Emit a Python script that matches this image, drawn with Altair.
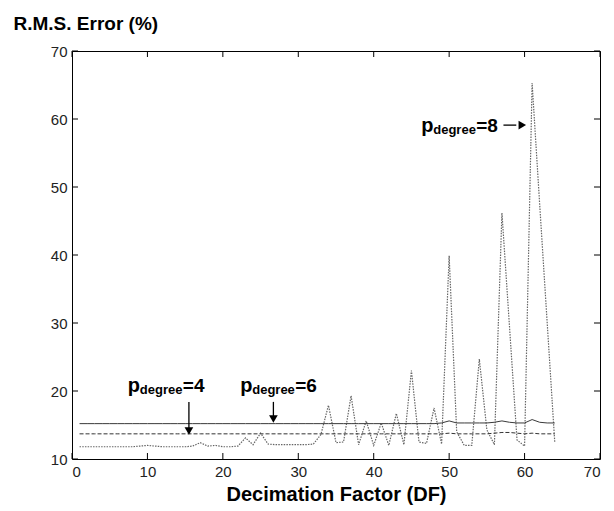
import altair as alt
import pandas as pd

# ---- data ----
df_vals = list(range(1, 65))

p4 = [15.2] * 48 + [15.3, 15.6, 15.3, 15.3, 15.3, 15.3, 15.3, 15.4,
                    15.6, 15.4, 15.3, 15.3, 15.8, 15.4, 15.3, 15.3]

p6 = [13.7] * 48 + [13.7, 13.8, 13.7, 13.7, 13.7, 13.7, 13.7, 13.8,
                    13.9, 13.9, 13.8, 13.7, 13.8, 13.7, 13.7, 13.7]

p8 = [11.8, 11.8, 11.8, 11.8, 11.8, 11.8, 11.8, 11.8, 11.9, 12.0,
      11.9, 11.8, 11.8, 11.8, 11.8, 11.9, 12.4, 11.9, 12.0, 11.8,
      11.8, 11.9, 13.1, 12.1, 13.8, 12.2, 12.1, 12.1, 12.1, 12.1,
      12.1, 12.2, 13.6, 17.9, 12.4, 12.5, 19.3, 12.1, 15.6, 12.0,
      15.3, 12.0, 16.7, 12.1, 23.0, 12.5, 12.3, 17.5, 12.2, 39.9,
      14.0, 12.0, 12.0, 24.7, 14.3, 12.1, 46.2, 29.5, 12.8, 11.9,
      65.3, 47.5, 30.0, 12.5]

x_ticks = [0, 10, 20, 30, 40, 50, 60, 70]
y_ticks = [10, 20, 30, 40, 50, 60, 70]

# annotations: label anchor (DF, value) and suffix
ann_x = [7.4, 22.3, 46.3]
ann_y = [19.8, 19.8, 58.1]
ann_suffix = ["=4", "=6", "=8"]

# arrows (shaft start / end) and heads
arr_x1 = [15.5, 26.7, 57.2]
arr_x2 = [15.5, 26.7, 58.9]
arr_y1 = [18.4, 18.4, 59.1]
arr_y2 = [14.3, 15.9, 59.1]
head_x = [15.5, 26.7, 59.7]
head_y = [14.1, 15.9, 59.1]
head_shape = ["triangle-down", "triangle-down", "triangle-right"]

W, H = 528, 408
FONT = "Liberation Sans"

df = pd.DataFrame({
    "DF": df_vals * 3,
    "rms": p4 + p6 + p8,
    "series": ["p4"] * 64 + ["p6"] * 64 + ["p8"] * 64,
})

xscale = alt.Scale(domain=[0, 70], nice=False, zero=False)
yscale = alt.Scale(domain=[10, 70], nice=False, zero=False)

x_axis = alt.Axis(
    values=x_ticks, title="Decimation Factor (DF)", ticks=False, grid=False,
    domain=False, labelFont=FONT, labelFontSize=15, labelColor="#222",
    labelPadding=5, titleFont=FONT, titleFontSize=20, titleFontWeight="bold",
    titleColor="black", titleY=41, titleBaseline="alphabetic")
y_axis = alt.Axis(
    values=y_ticks, title="R.M.S. Error (%)", ticks=False, grid=False,
    domain=False, labelFont=FONT, labelFontSize=15, labelColor="#222",
    labelPadding=5, titleFont=FONT, titleFontSize=19, titleFontWeight="bold",
    titleColor="black", titleAngle=0, titleAlign="left", titleX=-59,
    titleY=-22, titleBaseline="alphabetic")


def X(field):
    return alt.X(field, type="quantitative", scale=xscale, axis=x_axis)


def Y(field):
    return alt.Y(field, type="quantitative", scale=yscale, axis=y_axis)


base = alt.Chart(df).encode(x=X("DF"), y=Y("rms"))
line4 = base.transform_filter(alt.datum.series == "p4").mark_line(
    color="#3a3a3a", strokeWidth=1)
line6 = base.transform_filter(alt.datum.series == "p6").mark_line(
    color="#333333", strokeWidth=1, strokeDash=[4, 2])
line8 = base.transform_filter(alt.datum.series == "p8").mark_line(
    color="#666666", strokeWidth=1.2, strokeDash=[1.5, 1.2])

# inward ticks on all four sides
xt = pd.DataFrame({"t": x_ticks})
yt = pd.DataFrame({"t": y_ticks})
tick_b = alt.Chart(xt).mark_rule(color="black").encode(
    x=X("t"), y=alt.value(H), y2=alt.value(H - 6))
tick_t = alt.Chart(xt).mark_rule(color="black").encode(
    x=X("t"), y=alt.value(0), y2=alt.value(6))
tick_l = alt.Chart(yt).mark_rule(color="black").encode(
    y=Y("t"), x=alt.value(0), x2=alt.value(6))
tick_r = alt.Chart(yt).mark_rule(color="black").encode(
    y=Y("t"), x=alt.value(W), x2=alt.value(W - 6))

ann = pd.DataFrame({"ax": ann_x, "ay": ann_y, "suf": ann_suffix})
txt_p = alt.Chart(ann).mark_text(
    text="p", align="left", baseline="alphabetic", font=FONT, fontSize=20,
    fontWeight="bold", color="black").encode(x=X("ax"), y=Y("ay"))
txt_deg = alt.Chart(ann).mark_text(
    text="degree", align="left", baseline="alphabetic", font=FONT, fontSize=13,
    fontWeight="bold", color="black", dx=12, dy=2).encode(x=X("ax"), y=Y("ay"))
txt_suf = alt.Chart(ann).mark_text(
    align="left", baseline="alphabetic", font=FONT, fontSize=19,
    fontWeight="bold", color="black", dx=55).encode(
    x=X("ax"), y=Y("ay"), text="suf:N")

arr = pd.DataFrame({"x1": arr_x1, "x2": arr_x2, "y1": arr_y1, "y2": arr_y2})
shafts = alt.Chart(arr).mark_rule(color="black", strokeWidth=1.3).encode(
    x=X("x1"), x2="x2:Q", y=Y("y1"), y2="y2:Q")
heads_df = pd.DataFrame({"hx": head_x, "hy": head_y, "shape": head_shape})
heads = alt.Chart(heads_df).mark_point(
    filled=True, color="black", size=75, opacity=1).encode(
    x=X("hx"), y=Y("hy"),
    shape=alt.Shape("shape:N", scale=None, legend=None))

chart = alt.layer(
    line8, line6, line4, tick_b, tick_t, tick_l, tick_r,
    txt_p, txt_deg, txt_suf, shafts, heads
).properties(
    width=W, height=H,
    autosize=alt.AutoSizeParams(type="none"),
    padding={"left": 64, "top": 43, "right": 6, "bottom": 50},
    background="white",
).configure_view(stroke="black", strokeWidth=1)

chart.save("out.html", embed_options={"renderer": "svg", "actions": False})
